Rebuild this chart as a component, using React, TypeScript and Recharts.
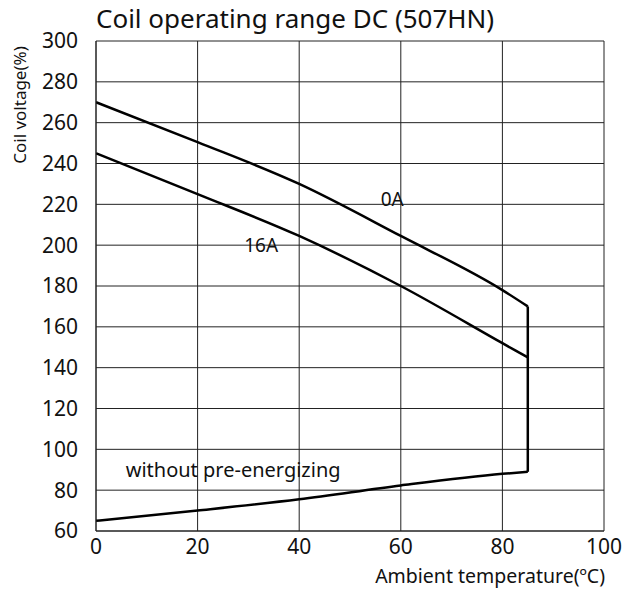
import React from 'react';
import { LineChart, Line, XAxis, YAxis, CartesianGrid, ReferenceDot } from 'recharts';

// ambient temperature (°C) -> coil voltage (%)
const temps = [0, 20, 40, 60, 80, 85];
const curve0A = [270, 250.5, 230, 204.5, 178, 170];
const curve16A = [245, 225, 204.5, 180, 152, 145];
const noPreEnergizing = [65, 70, 75.5, 82.3, 88, 89];
const edgeTemp = 85;
const edgeVoltage = [89, 170];

const xTicks = [0, 20, 40, 60, 80, 100];
const yTicks = [60, 80, 100, 120, 140, 160, 180, 200, 220, 240, 260, 280, 300];

const toPoints = (values: number[]) => values.map((v, i) => ({ t: temps[i], v }));
const data0A = toPoints(curve0A);
const data16A = toPoints(curve16A);
const dataLow = toPoints(noPreEnergizing);
const dataEdge = edgeVoltage.map((v) => ({ t: edgeTemp, v }));

const FONT = '"Noto Sans", sans-serif';

export default function App() {
  return (
    <div style={{ position: 'absolute', left: 0, top: 0, width: 623, height: 592, background: '#fff', fontFamily: FONT }}>
      <div style={{ position: 'absolute', left: 96, top: 0, fontSize: 26, lineHeight: '36px', color: '#111', whiteSpace: 'nowrap' }}>
        Coil operating range DC (507HN)
      </div>
      <div
        style={{
          position: 'absolute',
          left: 19,
          top: 105,
          fontSize: 17,
          color: '#111',
          whiteSpace: 'nowrap',
          transform: 'translate(-50%, -50%) rotate(-90deg)',
        }}
      >
        Coil voltage(%)
      </div>
      <div style={{ position: 'absolute', right: 18, top: 562, fontSize: 19.5, lineHeight: '28px', color: '#111', whiteSpace: 'nowrap' }}>
        Ambient temperature(ºC)
      </div>
      <LineChart width={623} height={592} margin={{ top: 41, right: 19, left: 0, bottom: 0 }}>
        <CartesianGrid stroke="#222" strokeWidth={1} />
        <XAxis
          dataKey="t"
          type="number"
          domain={[0, 100]}
          ticks={xTicks}
          height={61}
          axisLine={{ stroke: '#222' }}
          tickLine={false}
          tickSize={0}
          tickMargin={8}
          tick={{ fill: '#111', fontSize: 21, fontFamily: FONT }}
          allowDataOverflow
        />
        <YAxis
          dataKey="v"
          type="number"
          domain={[60, 300]}
          ticks={yTicks}
          width={96}
          axisLine={{ stroke: '#222' }}
          tickLine={false}
          tickSize={0}
          tickMargin={18}
          tick={{ fill: '#111', fontSize: 21, fontFamily: FONT }}
          allowDataOverflow
        />
        <Line data={data0A} dataKey="v" type="monotone" stroke="#000" strokeWidth={2.5} dot={false} isAnimationActive={false} />
        <Line data={data16A} dataKey="v" type="monotone" stroke="#000" strokeWidth={2.5} dot={false} isAnimationActive={false} />
        <Line data={dataLow} dataKey="v" type="monotone" stroke="#000" strokeWidth={2.5} dot={false} isAnimationActive={false} />
        <Line data={dataEdge} dataKey="v" type="linear" stroke="#000" strokeWidth={2.5} dot={false} isAnimationActive={false} />
        <ReferenceDot x={58.3} y={222.5} r={0} fill="none" stroke="none"
          label={{ value: '0A', position: 'center', fill: '#111', fontSize: 19, fontFamily: FONT }} />
        <ReferenceDot x={32.5} y={200} r={0} fill="none" stroke="none"
          label={{ value: '16A', position: 'center', fill: '#111', fontSize: 19, fontFamily: FONT }} />
        <ReferenceDot x={27} y={89.7} r={0} fill="none" stroke="none"
          label={{ value: 'without pre-energizing', position: 'center', fill: '#111', fontSize: 20, fontFamily: FONT }} />
      </LineChart>
    </div>
  );
}
